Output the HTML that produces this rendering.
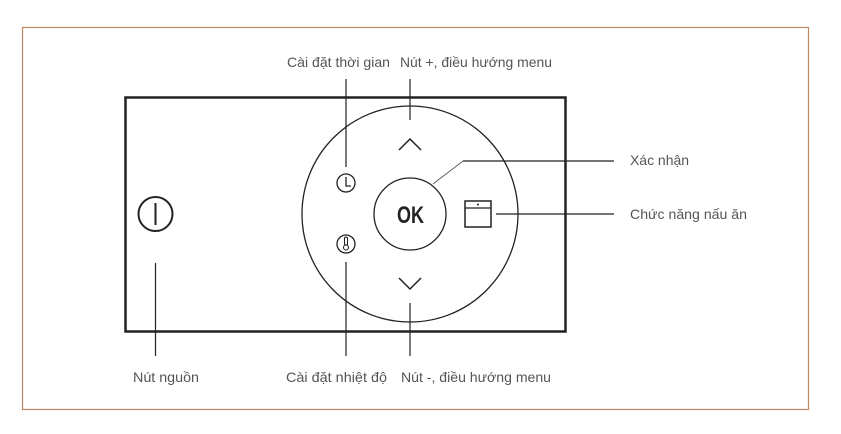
<!DOCTYPE html>
<html><head><meta charset="utf-8"><style>
html,body{margin:0;padding:0;background:#fff;}
svg{display:block}
text{font-family:"Liberation Sans",sans-serif;font-size:14px;fill:#555;}
</style></head><body>
<svg width="841" height="434" viewBox="0 0 841 434" xmlns="http://www.w3.org/2000/svg">
<rect x="22.5" y="27.5" width="786" height="382" fill="none" stroke="#c08660" stroke-width="1.2"/>
<rect x="125.5" y="97.5" width="440" height="234" fill="none" stroke="#222" stroke-width="2.5"/>
<circle cx="410" cy="214" r="108" fill="none" stroke="#222" stroke-width="1.3"/>
<circle cx="410" cy="214" r="36" fill="none" stroke="#222" stroke-width="1.3"/>
<text x="397" y="223" textLength="27" lengthAdjust="spacingAndGlyphs" style="font-size:24px;font-weight:bold;fill:#222">OK</text>
<circle cx="155.5" cy="214" r="17" fill="none" stroke="#222" stroke-width="2"/>
<line x1="155.5" y1="203" x2="155.5" y2="225" stroke="#222" stroke-width="2"/>
<circle cx="346" cy="183" r="9" fill="none" stroke="#222" stroke-width="1.3"/>
<polyline points="346,177 346,186 351,186" fill="none" stroke="#222" stroke-width="1.3"/>
<circle cx="346" cy="244" r="9" fill="none" stroke="#222" stroke-width="1.3"/>
<rect x="344.5" y="237" width="3" height="8" rx="1.5" fill="none" stroke="#222" stroke-width="1.1"/>
<circle cx="346" cy="247.5" r="2.5" fill="none" stroke="#222" stroke-width="1.1"/>
<polyline points="399,150 410,139 421,150" fill="none" stroke="#222" stroke-width="1.5"/>
<polyline points="399,278 410,289 421,278" fill="none" stroke="#222" stroke-width="1.5"/>
<rect x="465" y="201" width="26" height="26" fill="none" stroke="#222" stroke-width="1.5"/>
<line x1="465" y1="208" x2="491" y2="208" stroke="#222" stroke-width="1.2"/>
<circle cx="478" cy="204.5" r="1" fill="#222"/>
<g stroke="#222" stroke-width="1.2">
<line x1="346" y1="79" x2="346" y2="167"/>
<line x1="346" y1="262" x2="346" y2="356"/>
<line x1="410" y1="79" x2="410" y2="120"/>
<line x1="410" y1="303" x2="410" y2="356"/>
<line x1="155.5" y1="263" x2="155.5" y2="356"/>
<line x1="463" y1="161" x2="614" y2="161"/>
<line x1="496" y1="214" x2="614" y2="214"/>
</g>
<line x1="463" y1="161" x2="433" y2="184" stroke="#555" stroke-width="0.8"/>
<text x="287" y="67" textLength="103" lengthAdjust="spacingAndGlyphs">Cài đặt thời gian</text>
<text x="400" y="67" textLength="152" lengthAdjust="spacingAndGlyphs">Nút +, điều hướng menu</text>
<text x="630" y="165" textLength="59" lengthAdjust="spacingAndGlyphs">Xác nhận</text>
<text x="630" y="219" textLength="117" lengthAdjust="spacingAndGlyphs">Chức năng nấu ăn</text>
<text x="133" y="382" textLength="66" lengthAdjust="spacingAndGlyphs">Nút nguồn</text>
<text x="286" y="382" textLength="101" lengthAdjust="spacingAndGlyphs">Cài đặt nhiệt độ</text>
<text x="401" y="382" textLength="150" lengthAdjust="spacingAndGlyphs">Nút -, điều hướng menu</text>
</svg>
</body></html>
